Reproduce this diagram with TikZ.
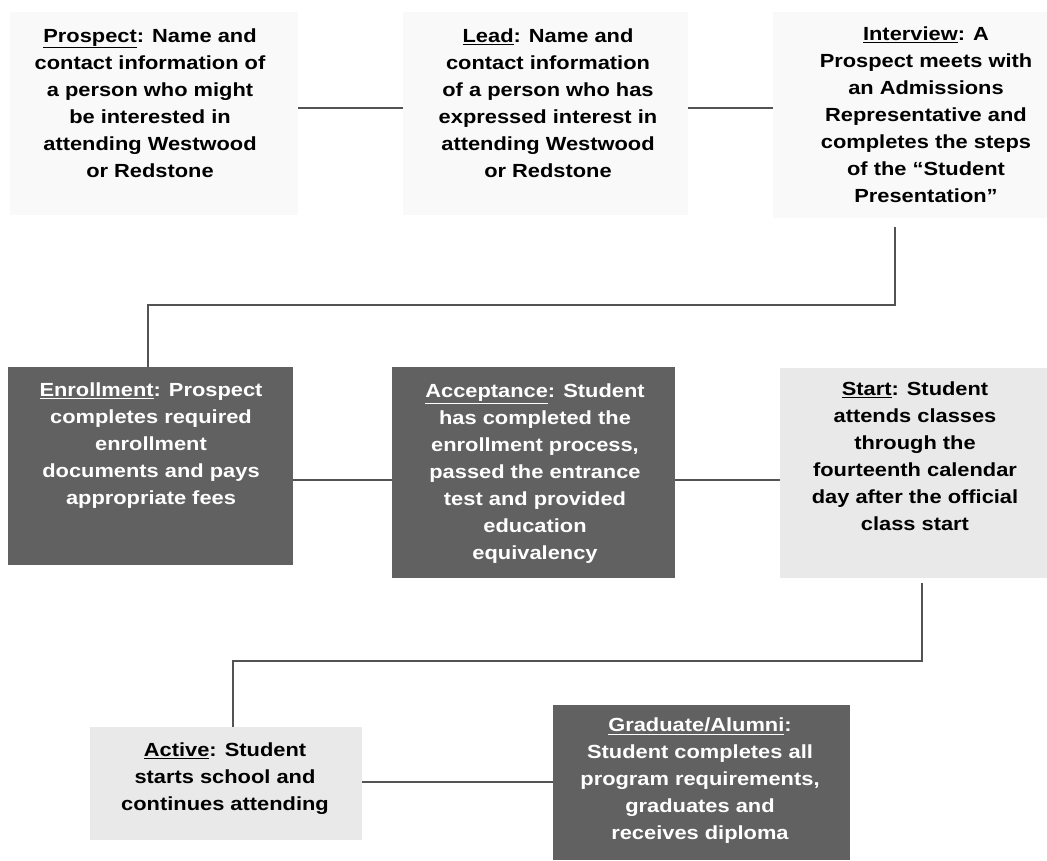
\documentclass[tikz,border=0pt]{standalone}
\usepackage{fontspec}
\setmainfont{Liberation Sans}[FakeStretch=1.15]
\begin{document}
\begin{tikzpicture}[x=1pt,y=-1pt,
  boxbase/.style={draw=none, inner sep=0pt},
  lightbox/.style={boxbase, fill=gray!5},
  gridbox/.style={boxbase, fill=gray!17},
  darkbox/.style={boxbase, fill=black!62},
  txt/.style={font=\bfseries\fontsize{19}{27}\selectfont, align=center, text=black, inner sep=0pt},
  wtxt/.style={txt, text=white},
  conn/.style={draw=gray!65!black, line width=2pt}]
\useasboundingbox[fill=white] (0,0) rectangle (1047,860);

% boxes
\node[lightbox, minimum width=288, minimum height=203] (prospect) at (154,113.5) {};
\node[lightbox, minimum width=285, minimum height=203] (lead) at (545.5,113.5) {};
\node[lightbox, minimum width=274, minimum height=206] (interview) at (910,115) {};
\node[darkbox, minimum width=285, minimum height=198] (enrollment) at (150.5,466) {};
\node[darkbox, minimum width=283, minimum height=211] (acceptance) at (533.5,472.5) {};
\node[gridbox, minimum width=267, minimum height=210] (start) at (913.5,473) {};
\node[gridbox, minimum width=272, minimum height=113] (active) at (226,783.5) {};
\node[darkbox, minimum width=297, minimum height=155] (graduate) at (701.5,782.5) {};

% texts
\node[txt] (prospectT) at (150,103) {\underline{Prospect}: Name and\\contact information of\\a person who might\\be interested in\\attending Westwood\\or Redstone};
\node[txt] (leadT) at (548,103) {\underline{Lead}: Name and\\contact information\\of a person who has\\expressed interest in\\attending Westwood\\or Redstone};
\node[txt] (interviewT) at (926,115) {\underline{Interview}: A\\Prospect meets with\\an Admissions\\Representative and\\completes the steps\\of the “Student\\Presentation”};
\node[wtxt] (enrollmentT) at (151,446) {\underline{Enrollment}: Prospect\\completes required\\enrollment\\documents and pays\\appropriate fees};
\node[wtxt] (acceptanceT) at (535,474) {\underline{Acceptance}: Student\\has completed the\\enrollment process,\\passed the entrance\\test and provided\\education\\equivalency};
\node[txt] (startT) at (915,456) {\underline{Start}: Student\\attends classes\\through the\\fourteenth calendar\\day after the official\\class start};
\node[txt] (activeT) at (225,779) {\underline{Active}: Student\\starts school and\\continues attending};
\node[wtxt] (graduateT) at (700,781) {\underline{Graduate/Alumni}:\\Student completes all\\program requirements,\\graduates and\\receives diploma};

% helper coordinates
\coordinate (rowA) at (0,108);
\coordinate (bendA) at (0,305);
\coordinate (rowB) at (0,480);
\coordinate (bendB) at (0,661);
\coordinate (rowC) at (0,782);
\coordinate (intX) at (895,0);
\coordinate (enrX) at (148,0);
\coordinate (stX) at (922,0);
\coordinate (actX) at (233,0);

% connectors
\draw[conn] (prospect.east |- rowA) -- (lead.west |- rowA);
\draw[conn] (lead.east |- rowA) -- (interview.west |- rowA);
\draw[conn] ([yshift=-9pt]interview.south -| intX) -- (intX |- bendA) -- (enrX |- bendA) -- (enrollment.north -| enrX);
\draw[conn] (enrollment.east |- rowB) -- (acceptance.west |- rowB);
\draw[conn] (acceptance.east |- rowB) -- (start.west |- rowB);
\draw[conn] ([yshift=-5pt]start.south -| stX) -- (stX |- bendB) -- (actX |- bendB) -- (active.north -| actX);
\draw[conn] (active.east |- rowC) -- (graduate.west |- rowC);
\end{tikzpicture}
\end{document}
